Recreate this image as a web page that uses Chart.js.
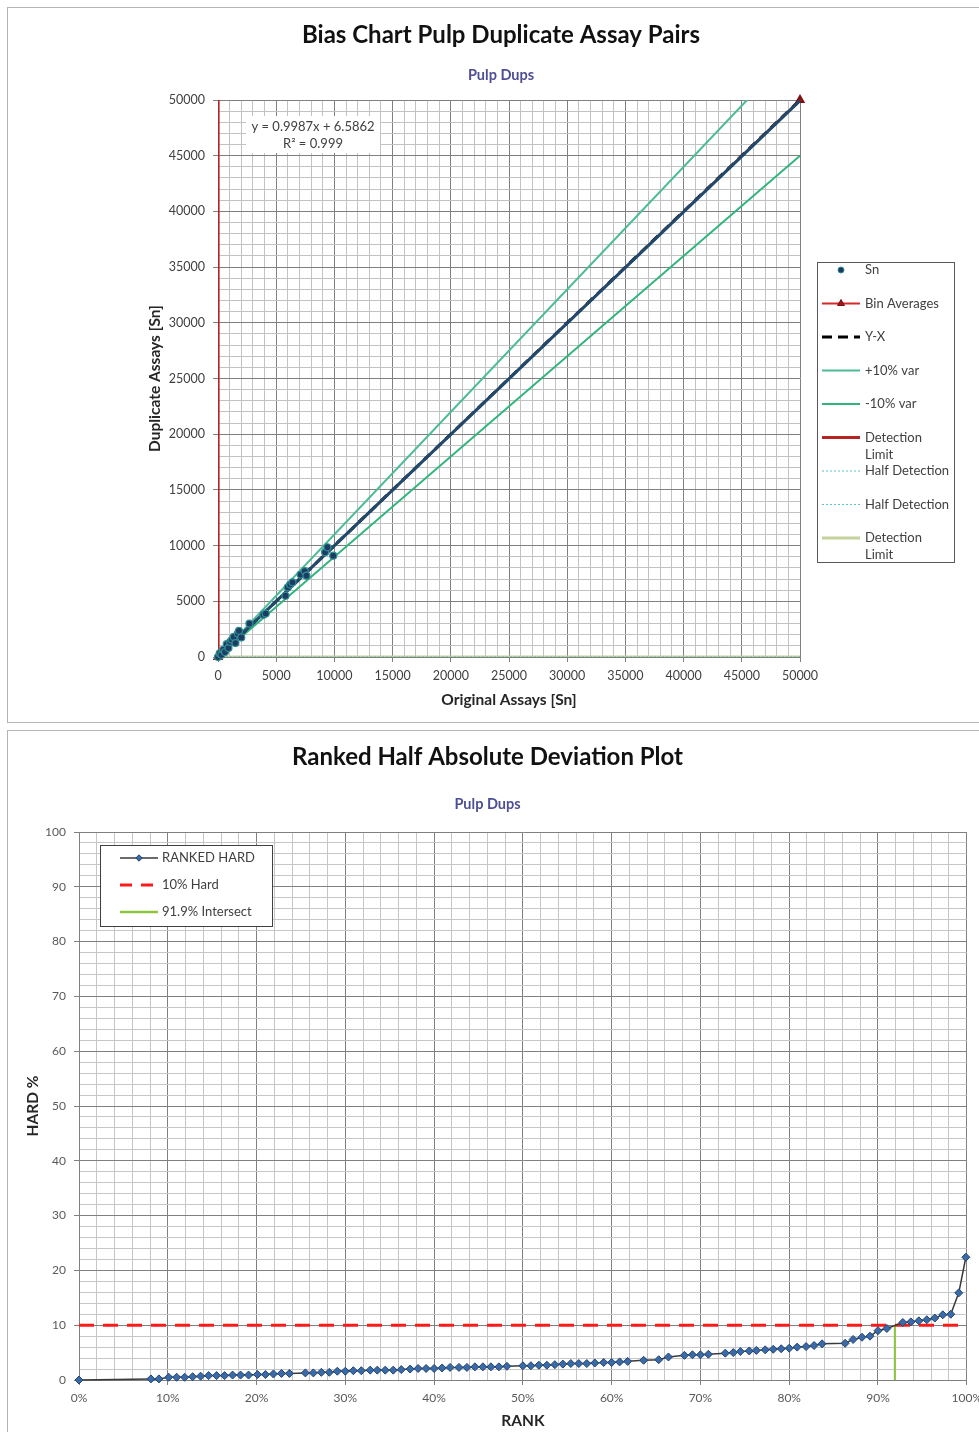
<!DOCTYPE html>
<html>
<head>
<meta charset="utf-8">
<title>Pulp Duplicates</title>
<script src="https://cdn.jsdelivr.net/npm/chart.js@4.4.1/dist/chart.umd.min.js"></script>
<style>
  html, body { margin: 0; padding: 0; background: #fff; overflow: hidden; }
  body { width: 979px; height: 1432px; position: relative; }
  .panel { position: absolute; left: 7px; border: 1px solid #b4b4b4; box-sizing: border-box; background: #fff; }
  #panel1 { top: 7px; width: 1000px; height: 716px; }
  #panel2 { top: 730px; width: 1000px; height: 720px; }
  canvas { display: block; }
</style>
</head>
<body>
<div class="panel" id="panel1"><canvas id="bias" width="986" height="714"></canvas></div>
<div class="panel" id="panel2"><canvas id="hard" width="980" height="701"></canvas></div>
<script>
// ---- bias chart data (Sn, original vs duplicate) ----
const snOriginal  = [0, 150, 300, 450, 600, 750, 900, 1050, 1200, 1350, 1500, 1700, 1800, 2000, 2700, 3900, 4100, 5800, 6000, 6200, 6400, 7100, 7450, 7600, 9200, 9400, 9900];
const snDuplicate = [0, 320, 200, 650, 450, 1150, 800, 1350, 1550, 1800, 1250, 2100, 2350, 1750, 3000, 3800, 3900, 5500, 6250, 6500, 6700, 7400, 7700, 7300, 9400, 9850, 9100];
const binOriginal  = [0, 50000];
const binDuplicate = [0, 50000];
const yxX = [0, 50000], yxY = [0, 50000];
const plusVarX = [0, 45454], plusVarY = [0, 50000];
const minusVarX = [0, 50000], minusVarY = [0, 45000];
const detectionLimit = 10, halfDetection = 5;
const trendX = [0, 50000], trendY = [6.6, 49941.6];
const trendText = ['y = 0.9987x + 6.5862', 'R\u00b2 = 0.999'];
const biasMax = 50000, biasMinor = 1000, biasMajor = 5000;

// ---- ranked HARD data ----
const rankPct = [0, 8.1, 9.0, 10.1, 11.0, 11.9, 12.8, 13.7, 14.6, 15.5, 16.4, 17.3, 18.2, 19.1, 20.1, 21.0, 21.9, 22.8, 23.7,
  25.5, 26.4, 27.3, 28.2, 29.1, 30.0, 30.9, 31.8, 32.8, 33.6, 34.5, 35.4, 36.3, 37.3, 38.2, 39.1, 40.0, 40.9, 41.8, 42.8,
  43.7, 44.6, 45.5, 46.4, 47.3, 48.2, 50.0, 50.9, 51.8, 52.7, 53.6, 54.5, 55.4, 56.3, 57.2, 58.1, 59.1, 60.0, 60.9, 61.8,
  63.6, 65.3, 66.4, 68.2, 69.1, 70.0, 70.9, 72.8, 73.7, 74.5, 75.5, 76.3, 77.3, 78.2, 79.1, 80.0, 80.9, 81.9, 82.8, 83.7,
  86.3, 87.2, 88.2, 89.1, 90.0, 91.0, 92.8, 93.7, 94.6, 95.5, 96.4, 97.3, 98.2, 99.1, 99.9];
const hardPct = [0, 0.2, 0.2, 0.5, 0.5, 0.5, 0.6, 0.7, 0.8, 0.8, 0.8, 0.9, 0.9, 0.9, 1.0, 1.0, 1.1, 1.2, 1.2,
  1.3, 1.3, 1.4, 1.4, 1.6, 1.6, 1.7, 1.7, 1.8, 1.8, 1.8, 1.8, 1.9, 2.0, 2.1, 2.1, 2.1, 2.2, 2.3, 2.3,
  2.3, 2.4, 2.4, 2.4, 2.4, 2.5, 2.6, 2.6, 2.7, 2.7, 2.8, 2.9, 3.0, 3.0, 3.0, 3.1, 3.2, 3.2, 3.3, 3.4,
  3.6, 3.7, 4.2, 4.5, 4.6, 4.6, 4.7, 4.9, 5.0, 5.2, 5.3, 5.4, 5.5, 5.6, 5.7, 5.8, 6.0, 6.1, 6.3, 6.6,
  6.7, 7.4, 7.8, 8.0, 9.0, 9.4, 10.5, 10.6, 10.8, 11.0, 11.3, 11.9, 12.0, 15.9, 22.4];
const hardLimit = 10;
const intersectRank = 91.9;

const FONT = 'Lato';
const pts = (xs, ys) => xs.map((x, i) => ({x: x, y: ys[i]}));

// legend drawn in a box, rows taken from the datasets
const boxLegend = {
  id: 'boxLegend',
  afterDraw(chart, args, o) {
    const ctx = chart.ctx;
    ctx.save();
    ctx.fillStyle = '#fff';
    ctx.fillRect(o.x, o.y, o.w, o.h);
    ctx.strokeStyle = o.frame;
    ctx.lineWidth = 1;
    ctx.strokeRect(o.x + 0.5, o.y + 0.5, o.w, o.h);
    ctx.font = o.size + 'px ' + FONT;
    ctx.textBaseline = 'middle';
    let row = 0;
    chart.data.datasets.forEach(ds => {
      if (ds.inLegend === false) return;
      const cy = o.y + o.first + row * o.step;
      const x0 = o.x + o.sampleLeft, x1 = x0 + o.sampleWidth;
      if (ds.showLine) {
        ctx.save();
        ctx.strokeStyle = ds.borderColor;
        ctx.lineWidth = ds.legendWidth || ds.borderWidth;
        ctx.setLineDash(ds.legendDash || ds.borderDash || []);
        ctx.beginPath();
        ctx.moveTo(x0, cy);
        ctx.lineTo(x1, cy);
        ctx.stroke();
        ctx.restore();
      }
      if (ds.pointRadius > 0 || ds.legendRadius) {
        ctx.fillStyle = ds.pointBackgroundColor;
        ctx.strokeStyle = ds.pointBorderColor;
        ctx.lineWidth = 1;
        Chart.helpers.drawPoint(ctx, {pointStyle: ds.pointStyle, radius: ds.legendRadius || ds.pointRadius, rotation: 0, borderWidth: 1}, (x0 + x1) / 2, cy);
      }
      ctx.fillStyle = o.color;
      (ds.legendLines || [ds.label]).forEach((t, k) => ctx.fillText(t, x1 + o.gap, cy + k * o.lineGap));
      row++;
    });
    ctx.restore();
  }
};

const trendLabel = {
  id: 'trendLabel',
  afterDraw(chart, args, o) {
    const ctx = chart.ctx;
    ctx.save();
    ctx.fillStyle = '#fff';
    ctx.fillRect(o.x, o.y, o.w, o.h);
    ctx.fillStyle = '#404040';
    ctx.font = '13px ' + FONT;
    ctx.textAlign = 'center';
    ctx.textBaseline = 'middle';
    o.lines.forEach((t, i) => ctx.fillText(t, o.x + o.w / 2, o.y + 11 + i * 17));
    ctx.restore();
  }
};

function gridColor(step, major, minor) {
  return c => (c.tick && Math.abs(c.tick.value % step) < 1e-6) ? major : minor;
}

// ================= chart 1 =================
new Chart(document.getElementById('bias'), {
  type: 'scatter',
  data: {
    datasets: [
      {label: 'Sn', data: pts(snOriginal, snDuplicate), pointStyle: 'circle', pointRadius: 3.5, legendRadius: 3,
       pointBackgroundColor: '#1d3b63', pointBorderColor: '#2f8f93', pointBorderWidth: 1.2, clip: false, order: 0},
      {label: 'Bin Averages', data: pts(binOriginal, binDuplicate), showLine: true, borderColor: '#d42a2a', borderWidth: 2,
       pointStyle: 'triangle', pointRadius: 4, pointBackgroundColor: '#a01818', pointBorderColor: '#7a1010', clip: false, order: 3},
      {label: 'Y-X', data: pts(yxX, yxY), showLine: true, borderColor: '#000', borderWidth: 3, borderDash: [9, 6],
       legendDash: [10, 6], pointRadius: 0, order: 4},
      {label: '+10% var', data: pts(plusVarX, plusVarY), showLine: true, borderColor: '#4dbb98', borderWidth: 2, pointRadius: 0, order: 5},
      {label: '-10% var', data: pts(minusVarX, minusVarY), showLine: true, borderColor: '#2fb47c', borderWidth: 2, pointRadius: 0, order: 6},
      {label: 'Detection Limit', legendLines: ['Detection', 'Limit'], data: pts([detectionLimit, detectionLimit], [0, biasMax]),
       showLine: true, borderColor: '#b52323', borderWidth: 3, pointRadius: 0, clip: 0, order: 7},
      {label: 'Half Detection', data: pts([halfDetection, halfDetection], [0, biasMax]), showLine: true, borderColor: '#5cc4c4',
       borderWidth: 1, borderDash: [2, 2], pointRadius: 0, order: 8},
      {label: 'Half Detection', data: pts([0, biasMax], [halfDetection, halfDetection]), showLine: true, borderColor: '#5cc4c4',
       borderWidth: 1, borderDash: [2, 2], pointRadius: 0, order: 9},
      {label: 'Detection Limit', legendLines: ['Detection', 'Limit'], data: pts([0, biasMax], [detectionLimit, detectionLimit]),
       showLine: true, borderColor: '#c6d29c', borderWidth: 3, pointRadius: 0, clip: 0, order: 10},
      {label: 'Linear (Sn)', inLegend: false, data: pts(trendX, trendY), showLine: true, borderColor: '#1f4a6e', borderWidth: 3,
       pointRadius: 0, order: 1}
    ]
  },
  options: {
    responsive: false,
    animation: false,
    layout: {padding: {left: 0, right: 0, top: 0, bottom: 8.7}},
    plugins: {
      legend: {display: false},
      tooltip: {enabled: false},
      title: {display: true, text: 'Bias Chart Pulp Duplicate Assay Pairs', color: '#111',
              font: {family: FONT, size: 24, weight: 'bold'}, padding: {top: 12.6, bottom: 8}},
      subtitle: {display: true, text: 'Pulp Dups', color: '#4e4e96',
                 font: {family: FONT, size: 14.5, weight: 'bold'}, padding: {top: 9, bottom: 16.2}},
      boxLegend: {x: 809, y: 254, w: 137, h: 300, first: 8, step: 33.5, sampleLeft: 5, sampleWidth: 38, gap: 5,
                  lineGap: 17, size: 13, color: '#404040', frame: '#595959'},
      trendLabel: {x: 238, y: 108, w: 134, h: 37, lines: trendText}
    },
    scales: {
      x: {
        type: 'linear', min: 0, max: biasMax,
        ticks: {stepSize: biasMinor, autoSkip: false, maxRotation: 0, padding: 6, color: '#404040',
                font: {family: FONT, size: 12.5}, callback: v => v % biasMajor === 0 ? String(v) : ''},
        grid: {color: gridColor(biasMajor, '#808080', '#c2c2c2'), tickColor: gridColor(biasMajor, '#808080', 'rgba(0,0,0,0)'), tickLength: 5},
        border: {color: '#808080'},
        title: {display: true, text: 'Original Assays [Sn]', color: '#262626',
                font: {family: FONT, size: 15.5, weight: 'bold'}, padding: {top: 0, bottom: 4}},
        afterFit: s => { s.height = 56.3; }
      },
      y: {
        type: 'linear', min: 0, max: biasMax,
        ticks: {stepSize: biasMinor, autoSkip: false, padding: 8, color: '#404040',
                font: {family: FONT, size: 12.5}, callback: v => v % biasMajor === 0 ? String(v) : ''},
        grid: {color: gridColor(biasMajor, '#808080', '#c2c2c2'), tickColor: gridColor(biasMajor, '#808080', 'rgba(0,0,0,0)'), tickLength: 5},
        border: {color: '#808080'},
        title: {display: true, text: 'Duplicate Assays [Sn]', color: '#262626',
                font: {family: FONT, size: 15.5, weight: 'bold'}, padding: {top: 137.7, bottom: 0}},
        afterFit: s => { s.width = 210; }
      },
      legendSpace: {
        type: 'linear', axis: 'y', position: 'right', display: true,
        grid: {display: false}, ticks: {display: false}, border: {display: false},
        afterFit: s => { s.width = 194; }
      }
    }
  },
  plugins: [boxLegend, trendLabel]
});

// ================= chart 2 =================
new Chart(document.getElementById('hard'), {
  type: 'scatter',
  data: {
    datasets: [
      {label: 'RANKED HARD', data: pts(rankPct, hardPct), showLine: true, borderColor: '#3a3a3a', borderWidth: 1.5,
       pointStyle: 'rectRot', pointRadius: 4, legendRadius: 3.2, pointBackgroundColor: '#3b6aa8', pointBorderColor: '#22446f',
       pointBorderWidth: 1, clip: false, order: 0},
      {label: '10% Hard', data: pts([0, 100], [hardLimit, hardLimit]), showLine: true, borderColor: '#ff1a1a', borderWidth: 3,
       borderDash: [15, 9], legendDash: [12, 9], pointRadius: 0, order: 1},
      {label: '91.9% Intersect', data: pts([intersectRank, intersectRank], [0, hardLimit]), showLine: true,
       borderColor: '#8cc63f', borderWidth: 2, legendWidth: 2.5, pointRadius: 0, order: 2}
    ]
  },
  options: {
    responsive: false,
    animation: false,
    layout: {padding: {left: 0, right: 21, top: 0, bottom: 0}},
    plugins: {
      legend: {display: false},
      tooltip: {enabled: false},
      title: {display: true, text: 'Ranked Half Absolute Deviation Plot', color: '#111',
              font: {family: FONT, size: 24, weight: 'bold'}, padding: {top: 11.6, bottom: 12}},
      subtitle: {display: true, text: 'Pulp Dups', color: '#4e4e96',
                 font: {family: FONT, size: 14.5, weight: 'bold'}, padding: {top: 12, bottom: 19.2}},
      boxLegend: {x: 92, y: 114, w: 172, h: 81, first: 13, step: 27, sampleLeft: 20, sampleWidth: 38, gap: 4,
                  lineGap: 0, size: 13, color: '#404040', frame: '#404040'}
    },
    scales: {
      x: {
        type: 'linear', min: 0, max: 100,
        ticks: {stepSize: 2, autoSkip: false, maxRotation: 0, padding: 6, color: '#595959',
                font: {family: FONT, size: 12}, callback: v => v % 10 === 0 ? v + '%' : ''},
        grid: {color: gridColor(10, '#808080', '#c6c6c6'), tickColor: gridColor(10, '#808080', 'rgba(0,0,0,0)'), tickLength: 5},
        border: {color: '#808080'},
        title: {display: true, text: 'RANK', color: '#262626',
                font: {family: FONT, size: 15.5, weight: 'bold'}, padding: {top: 0, bottom: 2}},
        afterFit: s => { s.height = 52; }
      },
      y: {
        type: 'linear', min: 0, max: 100,
        ticks: {stepSize: 2, autoSkip: false, padding: 8, color: '#595959',
                font: {family: FONT, size: 12}, callback: v => v % 10 === 0 ? String(v) : ''},
        grid: {color: gridColor(10, '#808080', '#c6c6c6'), tickColor: gridColor(10, '#808080', 'rgba(0,0,0,0)'), tickLength: 5},
        border: {color: '#808080'},
        title: {display: true, text: 'HARD %', color: '#262626',
                font: {family: FONT, size: 15.5, weight: 'bold'}, padding: {top: 15.7, bottom: 0}},
        afterFit: s => { s.width = 71; }
      }
    }
  },
  plugins: [boxLegend]
});
</script>
</body>
</html>
